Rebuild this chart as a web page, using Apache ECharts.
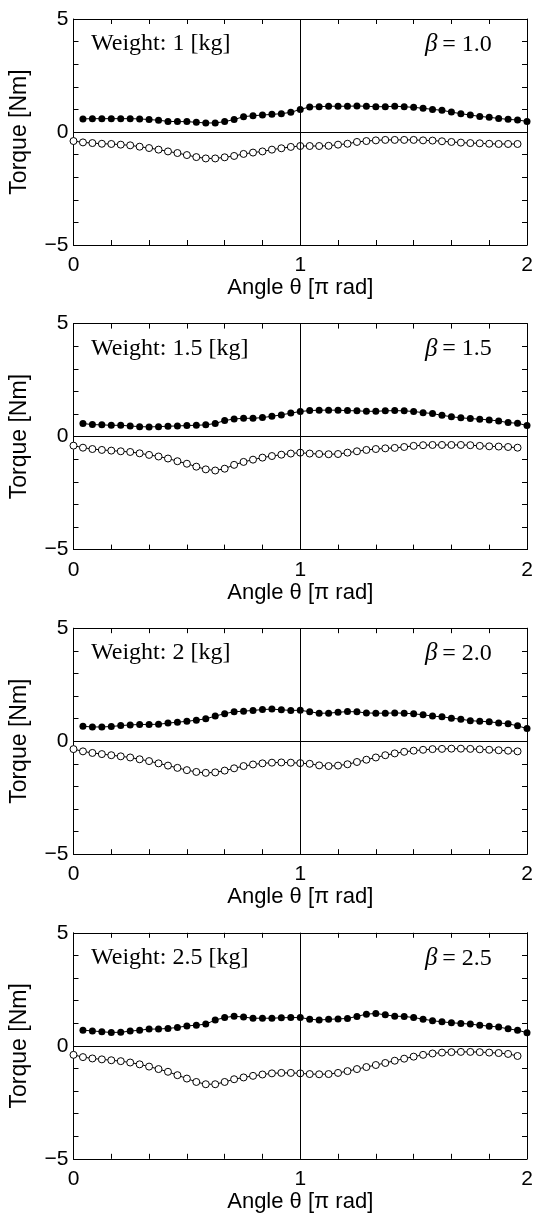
<!DOCTYPE html>
<html><head><meta charset="utf-8">
<script src="https://cdn.jsdelivr.net/npm/echarts@6/dist/echarts.min.js"></script>
<style>html,body{margin:0;padding:0;background:#fff}#c{width:542px;height:1220px}</style>
</head><body><div id="c"></div>
<script>
// sample grid: angle in units of pi, step 1/24
const STEP = 24;
const filledIdx = []; for (let k = 1; k <= 48; k++) filledIdx.push(k);
const openIdx = []; for (let k = 0; k <= 47; k++) openIdx.push(k);

const weights = ['Weight: 1 [kg]', 'Weight: 1.5 [kg]', 'Weight: 2 [kg]', 'Weight: 2.5 [kg]'];
const betas = ['1.0', '1.5', '2.0', '2.5'];
const xTickLabels = [0, 1, 2];
const yTickLabels = [-5, 0, 5];

const filled1 = [0.58,0.59,0.59,0.59,0.59,0.59,0.58,0.55,0.52,0.47,0.46,0.46,0.43,0.40,0.40,0.46,0.55,0.68,0.72,0.75,0.78,0.81,0.87,1.00,
  1.11,1.12,1.14,1.14,1.14,1.15,1.14,1.12,1.12,1.14,1.12,1.09,1.05,1.00,0.96,0.88,0.81,0.75,0.69,0.65,0.60,0.56,0.53,0.47];
const open1 = [-0.40,-0.46,-0.49,-0.52,-0.53,-0.56,-0.59,-0.65,-0.71,-0.78,-0.86,-0.93,-1.02,-1.11,-1.17,-1.17,-1.12,-1.06,-0.97,-0.91,-0.86,-0.78,-0.72,-0.66,
  -0.62,-0.62,-0.62,-0.61,-0.56,-0.52,-0.44,-0.40,-0.37,-0.35,-0.35,-0.35,-0.35,-0.37,-0.38,-0.41,-0.44,-0.47,-0.49,-0.50,-0.52,-0.53,-0.53,-0.53];

const filled2 = [0.58,0.53,0.52,0.50,0.50,0.47,0.44,0.43,0.44,0.46,0.47,0.49,0.50,0.52,0.58,0.71,0.78,0.81,0.81,0.84,0.90,0.96,1.04,1.11,
  1.15,1.17,1.17,1.17,1.15,1.14,1.12,1.12,1.14,1.15,1.14,1.11,1.06,1.02,0.94,0.88,0.83,0.80,0.77,0.74,0.69,0.62,0.59,0.49];
const open2 = [-0.40,-0.49,-0.55,-0.59,-0.62,-0.65,-0.68,-0.74,-0.81,-0.88,-0.97,-1.09,-1.20,-1.33,-1.45,-1.50,-1.42,-1.25,-1.12,-1.02,-0.93,-0.86,-0.80,-0.75,
  -0.71,-0.75,-0.77,-0.78,-0.77,-0.71,-0.65,-0.59,-0.55,-0.52,-0.50,-0.46,-0.41,-0.38,-0.37,-0.37,-0.37,-0.37,-0.38,-0.41,-0.43,-0.44,-0.46,-0.49];

const filled3 = [0.66,0.63,0.63,0.65,0.69,0.72,0.74,0.74,0.75,0.80,0.84,0.88,0.93,0.99,1.11,1.22,1.30,1.33,1.36,1.40,1.42,1.39,1.36,1.37,
  1.30,1.24,1.24,1.28,1.31,1.30,1.25,1.24,1.24,1.25,1.24,1.21,1.17,1.11,1.08,1.02,0.97,0.91,0.88,0.86,0.81,0.77,0.68,0.56];
const open3 = [-0.35,-0.45,-0.52,-0.57,-0.62,-0.67,-0.72,-0.80,-0.88,-0.98,-1.08,-1.18,-1.28,-1.36,-1.40,-1.38,-1.30,-1.20,-1.10,-1.03,-0.98,-0.95,-0.94,-0.95,
  -0.97,-1.00,-1.07,-1.10,-1.08,-1.02,-0.92,-0.82,-0.72,-0.62,-0.54,-0.47,-0.42,-0.38,-0.35,-0.34,-0.33,-0.33,-0.34,-0.36,-0.38,-0.40,-0.42,-0.45];

const filled4 = [0.69,0.66,0.62,0.59,0.60,0.65,0.69,0.74,0.74,0.77,0.81,0.88,0.91,0.96,1.14,1.25,1.31,1.27,1.22,1.22,1.22,1.24,1.25,1.25,
  1.18,1.14,1.17,1.19,1.21,1.30,1.40,1.43,1.37,1.31,1.30,1.25,1.18,1.11,1.06,1.02,0.99,0.96,0.91,0.87,0.83,0.75,0.69,0.58];
const open4 = [-0.40,-0.50,-0.56,-0.60,-0.64,-0.68,-0.74,-0.82,-0.92,-1.03,-1.15,-1.30,-1.45,-1.60,-1.70,-1.70,-1.60,-1.48,-1.40,-1.33,-1.27,-1.22,-1.20,-1.20,
  -1.22,-1.25,-1.26,-1.25,-1.20,-1.12,-1.03,-0.94,-0.85,-0.76,-0.66,-0.57,-0.48,-0.40,-0.34,-0.30,-0.28,-0.27,-0.27,-0.28,-0.30,-0.32,-0.36,-0.45];

const filledAll = [filled1, filled2, filled3, filled4];
const openAll = [open1, open2, open3, open4];

const tops = [19, 323.6, 628.2, 932.8];
const H = 226;
const SANS = 'Liberation Sans, Arial, sans-serif';
const SERIF = 'Liberation Serif, Times New Roman, serif';

function fmtNum(v) {
  const r = Math.round(v);
  if (Math.abs(v - r) > 1e-6) return '';
  return r < 0 ? '\u2212' + Math.abs(r) : String(r);
}

const grid = [], xAxis = [], yAxis = [], series = [], graphic = [];
tops.forEach((t, i) => {
  grid.push({left: 73.5, right: 15, top: t, height: H});
  const line = {show: true, onZero: false, lineStyle: {color: '#000', width: 1}};
  const tick = {show: true, inside: true, length: 5, lineStyle: {color: '#000', width: 1}};
  const minor = {show: true, splitNumber: 6, length: 5, lineStyle: {color: '#000', width: 1}};
  xAxis.push({gridIndex: i, type: 'value', min: xTickLabels[0], max: xTickLabels[2], interval: 1, position: 'bottom',
    axisLine: line, axisTick: tick, minorTick: minor, splitLine: {show: false},
    axisLabel: {fontSize: 21, color: '#000', fontFamily: SANS, margin: 10, formatter: fmtNum},
    name: 'Angle \u03b8 [\u03c0 rad]', nameLocation: 'middle', nameGap: 26,
    nameTextStyle: {fontSize: 22, color: '#000', fontFamily: SANS}});
  xAxis.push({gridIndex: i, type: 'value', min: xTickLabels[0], max: xTickLabels[2], interval: 1, position: 'top',
    axisLine: line, axisTick: tick, minorTick: minor, splitLine: {show: false}, axisLabel: {show: false}});
  const minorY = {show: true, splitNumber: 5, length: 5, lineStyle: {color: '#000', width: 1}};
  yAxis.push({gridIndex: i, type: 'value', min: yTickLabels[0], max: yTickLabels[2], interval: 5, position: 'left',
    axisLine: line, axisTick: tick, minorTick: minorY, splitLine: {show: false},
    axisLabel: {fontSize: 21, color: '#000', fontFamily: SANS, margin: 5, formatter: fmtNum},
    name: 'Torque [Nm]', nameLocation: 'middle', nameGap: 42, nameRotate: 90,
    nameTextStyle: {fontSize: 23, color: '#000', fontFamily: SANS}});
  yAxis.push({gridIndex: i, type: 'value', min: yTickLabels[0], max: yTickLabels[2], interval: 5, position: 'right',
    axisLine: line, axisTick: tick, minorTick: minorY, splitLine: {show: false}, axisLabel: {show: false}});

  series.push({type: 'line', xAxisIndex: 2 * i, yAxisIndex: 2 * i, silent: true,
    data: [], markLine: {silent: true, symbol: ['none', 'none'], label: {show: false},
      lineStyle: {color: '#000', width: 1, type: 'solid'}, data: [{yAxis: 0}, {xAxis: 1}]}});
  series.push({type: 'line', xAxisIndex: 2 * i, yAxisIndex: 2 * i, z: 3,
    data: openIdx.map((k, j) => [k / STEP, openAll[i][j]]),
    symbol: 'circle', symbolSize: 7, showAllSymbol: true,
    lineStyle: {color: '#000', width: 1},
    itemStyle: {color: '#fff', borderColor: '#000', borderWidth: 1}});
  series.push({type: 'line', xAxisIndex: 2 * i, yAxisIndex: 2 * i, z: 4,
    data: filledIdx.map((k, j) => [k / STEP, filledAll[i][j]]),
    symbol: 'circle', symbolSize: 7, showAllSymbol: true,
    lineStyle: {color: '#000', width: 1},
    itemStyle: {color: '#000', borderColor: '#000', borderWidth: 0}});

  graphic.push({type: 'text', left: 91, top: t + 13, style: {text: weights[i], font: '24px ' + SERIF, fill: '#000'}});
  graphic.push({type: 'text', left: 425, top: t + 13, style: {
    rich: {b: {font: 'italic 25px ' + SERIF, fill: '#000'}, n: {font: '24px ' + SERIF, fill: '#000'}},
    text: '{b|\u03b2}{n|\u2009= ' + betas[i] + '}'}});
});

const chart = echarts.init(document.getElementById('c'), null, {renderer: 'canvas'});
chart.setOption({animation: false, backgroundColor: '#fff', grid, xAxis, yAxis, series, graphic});
</script></body></html>
